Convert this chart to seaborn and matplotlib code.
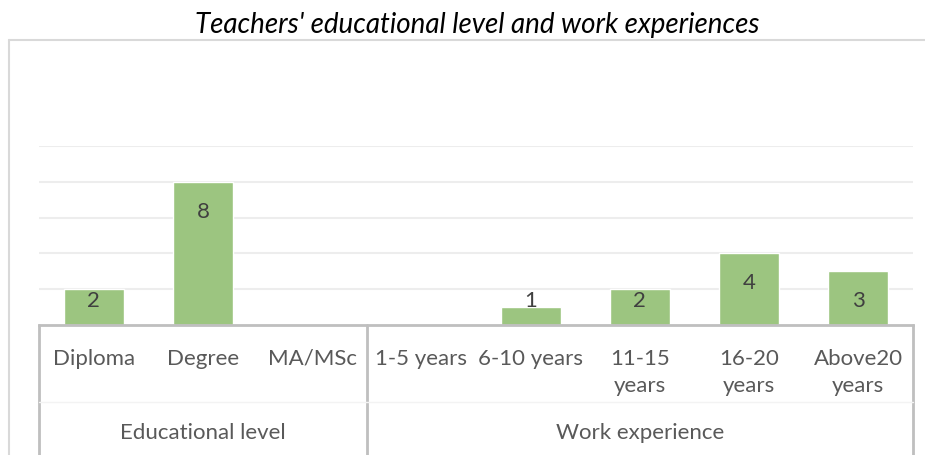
import matplotlib
matplotlib.use('Agg')
import matplotlib.pyplot as plt
import seaborn as sns
import pandas as pd
from matplotlib.lines import Line2D

# Données du graphique
categories = ['Diploma', 'Degree', 'MA/MSc', '1-5 years', '6-10 years',
              '11-15 years', '16-20 years', 'Above20 years']
tick_labels = ['Diploma', 'Degree', 'MA/MSc', '1-5 years', '6-10 years',
               '11-15\nyears', '16-20\nyears', 'Above20\nyears']
values = [2, 8, 0, 0, 1, 2, 4, 3]
value_labels = ['2', '8', '', '', '1', '2', '4', '3']
groups = ['Educational level', 'Work experience']
group_sizes = [3, 5]

sns.set_theme(style='white')
plt.rcParams['font.family'] = ['Lato', 'DejaVu Sans']

df = pd.DataFrame({'categorie': categories, 'valeur': values})

fig = plt.figure(figsize=(9.25, 4.55), dpi=100)
W, H = 925, 455
ax = fig.add_axes([39 / W, (H - 325) / H, 874 / W, 179 / H])

sns.barplot(data=df, x='categorie', y='valeur', color='#9CC580',
            saturation=1, width=0.55, ax=ax)

ax.set_xlim(-0.5, len(categories) - 0.5)
ax.set_ylim(0, 10)
ax.set_yticks([2, 4, 6, 8, 10])
ax.set_yticklabels([])
ax.tick_params(axis='y', length=0)
ax.grid(axis='y', color='#EDEDED', linewidth=1.5)
ax.set_axisbelow(True)
for s in ['top', 'left', 'right']:
    ax.spines[s].set_visible(False)
ax.spines['bottom'].set_color('#BFBFBF')
ax.spines['bottom'].set_linewidth(2)
ax.set_xlabel('')
ax.set_ylabel('')
ax.set_xticks(range(len(categories)))
ax.set_xticklabels(tick_labels, fontsize=16, color='#595959', va='top',
                   linespacing=1.45)
ax.tick_params(axis='x', length=0, pad=17)

# Étiquettes de valeur : 30 px sous le haut de la barre, pas plus bas que 24 px
unit = 179 / 10
for i, (v, lab) in enumerate(zip(values, value_labels)):
    if lab == '':
        continue
    y = max(v - 30 / unit, 24 / unit)
    ax.text(i, y, lab, ha='center', va='center', fontsize=16, color='#404040')

# Séparateurs de groupes et libellés
xt = ax.get_xaxis_transform()
bounds = [-0.5]
for n in group_sizes:
    bounds.append(bounds[-1] + n)
for b in bounds:
    ax.plot([b, b], [0, -1], transform=xt, color='#BFBFBF', linewidth=2,
            clip_on=False)
ax.plot([-0.5, len(categories) - 0.5], [-77 / 179, -77 / 179], transform=xt,
        color='#F3F3F3', linewidth=1, clip_on=False)
for g, a, b in zip(groups, bounds[:-1], bounds[1:]):
    ax.text((a + b) / 2, -108 / 179, g, transform=xt, ha='center', va='center',
            fontsize=16, color='#595959')

# Cadre extérieur
fig.add_artist(Line2D([9 / W, 9 / W], [0, (H - 40) / H], color='#D9D9D9',
                      linewidth=1.5))
fig.add_artist(Line2D([9 / W, 1], [(H - 40) / H, (H - 40) / H],
                      color='#D9D9D9', linewidth=1.5))

fig.text(477 / W, (H - 25) / H, "Teachers' educational level and work experiences",
         ha='center', va='center', fontsize=20, style='italic', color='black')

fig.savefig('out.png', dpi=100)
